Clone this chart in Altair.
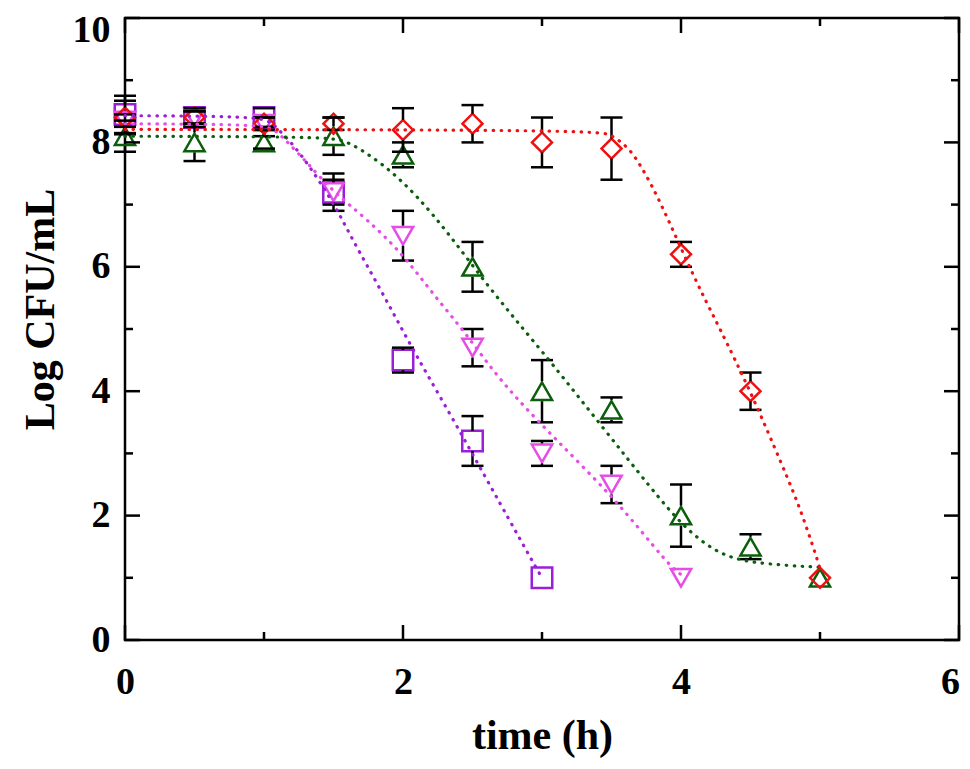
import altair as alt
import pandas as pd

# ---------------- measured data ----------------
series = ["sq", "dn", "up", "di"]
colors = ["#9b1fd6", "#e64ce6", "#0b5e0b", "#ee1111"]
shapes = ["square", "triangle-down", "triangle-up", "diamond"]
sizes = [420, 400, 400, 360]

t_sq = [0, 0.5, 1, 1.5, 2, 2.5, 3]
y_sq = [8.45, 8.4, 8.4, 7.2, 4.5, 3.2, 1.0]
e_sq = [0.3, 0.15, 0.15, 0.3, 0.2, 0.4, 0]

t_dn = [0, 0.5, 1, 1.5, 2, 2.5, 3, 3.5, 4]
y_dn = [8.35, 8.4, 8.3, 7.2, 6.5, 4.7, 3.0, 2.5, 1.0]
e_dn = [0.1, 0.1, 0.1, 0.2, 0.4, 0.3, 0.2, 0.3, 0]

t_up = [0, 0.5, 1, 1.5, 2, 2.5, 3, 3.5, 4, 4.5, 5]
y_up = [8.1, 8.0, 8.0, 8.1, 7.8, 6.0, 4.0, 3.7, 2.0, 1.5, 1.0]
e_up = [0.25, 0.3, 0.1, 0.3, 0.2, 0.4, 0.5, 0.2, 0.5, 0.2, 0]

t_di = [0, 0.5, 1, 1.5, 2, 2.5, 3, 3.5, 4, 4.5, 5]
y_di = [8.4, 8.4, 8.3, 8.3, 8.2, 8.3, 8.0, 7.9, 6.2, 4.0, 1.0]
e_di = [0.27, 0.1, 0.1, 0.1, 0.35, 0.3, 0.4, 0.5, 0.2, 0.3, 0]

# fitted curves
c_sq_t = [0, 0.95, 1.05, 1.13, 1.26, 1.5, 1.62, 1.86, 2.08, 2.34, 2.58, 2.82, 2.94, 3.0]
c_sq_y = [8.43, 8.42, 8.33, 8.15, 7.84, 7.04, 6.5, 5.55, 4.63, 3.63, 2.67, 1.71, 1.23, 1.0]

c_dn_t = [0, 1.0, 1.08, 1.18, 1.3, 1.5, 1.74, 2.0, 2.22, 2.46, 2.7, 3.06, 3.54, 3.9, 4.0]
c_dn_y = [8.3, 8.29, 8.2, 7.98, 7.7, 7.2, 6.77, 6.2, 5.55, 4.91, 4.16, 3.31, 2.24, 1.23, 1.05]

c_up_t = [0, 1.45, 1.6, 1.86, 2.1, 2.34, 2.58, 2.82, 3.06, 3.44, 3.78, 4.02, 4.26, 4.5, 5.0]
c_up_y = [8.1, 8.09, 8.03, 7.65, 7.15, 6.5, 5.78, 5.12, 4.48, 3.41, 2.45, 1.81, 1.39, 1.23, 1.17]

c_di_t = [0, 3.4, 3.5, 3.59, 3.66, 3.78, 3.9, 4.02, 4.14, 4.27, 4.5, 4.74, 4.86, 4.98, 5.0]
c_di_y = [8.21, 8.2, 8.12, 7.97, 7.81, 7.36, 6.8, 6.2, 5.62, 5.05, 4.0, 2.75, 2.1, 1.3, 1.15]

x_major = [0, 2, 4, 6]
x_minor = [1, 3, 5]
y_major = [0, 2, 4, 6, 8, 10]
y_minor = [1, 3, 5, 7, 9]

# ---------------- tables ----------------
pts = pd.concat([
    pd.DataFrame({"t": t, "y": y, "e": e, "s": s})
    for t, y, e, s in [(t_sq, y_sq, e_sq, "sq"), (t_dn, y_dn, e_dn, "dn"),
                       (t_up, y_up, e_up, "up"), (t_di, y_di, e_di, "di")]
], ignore_index=True)
pts["ymin"] = pts["y"] - pts["e"]
pts["ymax"] = pts["y"] + pts["e"]

curves = pd.concat([
    pd.DataFrame({"t": t, "y": y, "s": s})
    for t, y, s in [(c_sq_t, c_sq_y, "sq"), (c_dn_t, c_dn_y, "dn"),
                    (c_up_t, c_up_y, "up"), (c_di_t, c_di_y, "di")]
], ignore_index=True)

W, H = 834, 622
FONT = "Liberation Serif"
xs = alt.Scale(domain=[0, 6], nice=False, zero=False)
ys = alt.Scale(domain=[0, 10], nice=False, zero=False)
cs = alt.Scale(domain=series, range=colors)

xaxis = alt.Axis(values=x_major, ticks=False, domain=False, grid=False,
                 labelFont=FONT, labelFontWeight="bold", labelFontSize=38,
                 labelColor="black", labelPadding=23, labelFlush=False,
                 labelOffset={"condition": {"test": "datum.value == 6", "value": -9}, "value": 0},
                 title="time (h)", titleFont=FONT, titleFontWeight="bold",
                 titleFontSize=42, titleColor="black", titlePadding=14)
yaxis = alt.Axis(values=y_major, ticks=False, domain=False, grid=False,
                 labelFont=FONT, labelFontWeight="bold", labelFontSize=38,
                 labelColor="black", labelPadding=15, labelFlush=False,
                 labelOffset={"condition": {"test": "datum.value == 10", "value": 12}, "value": 0},
                 title="Log CFU/mL", titleFont=FONT, titleFontWeight="bold",
                 titleFontSize=42, titleColor="black", titlePadding=10,
                 titleY=291)


def X(field):
    return alt.X(field, scale=xs, axis=xaxis, title="time (h)")


def Y(field):
    return alt.Y(field, scale=ys, axis=yaxis, title="Log CFU/mL")


base = alt.Chart(pts)

err = base.transform_filter("datum.e > 0")
stem_up = err.transform_filter("datum.e > 0.17").mark_rule(
    color="black", strokeWidth=2.5, y2Offset=-10).encode(
    x=X("t:Q"), y=Y("ymax:Q"), y2="y:Q")
stem_dn = err.transform_filter("datum.e > 0.17").mark_rule(
    color="black", strokeWidth=2.5, y2Offset=10).encode(
    x=X("t:Q"), y=Y("ymin:Q"), y2="y:Q")
cap_up = err.mark_rule(color="black", strokeWidth=2.5, xOffset=-11, x2Offset=11).encode(
    x=X("t:Q"), x2="t:Q", y=Y("ymax:Q"))
cap_dn = err.mark_rule(color="black", strokeWidth=2.5, xOffset=-11, x2Offset=11).encode(
    x=X("t:Q"), x2="t:Q", y=Y("ymin:Q"))

markers = base.mark_point(filled=False, strokeWidth=2.5, opacity=1).encode(
    x=X("t:Q"),
    y=Y("y:Q"),
    color=alt.Color("s:N", scale=cs, legend=None),
    shape=alt.Shape("s:N", scale=alt.Scale(domain=series, range=shapes), legend=None),
    size=alt.Size("s:N", scale=alt.Scale(domain=series, range=sizes), legend=None),
)

lines = alt.Chart(curves).mark_line(
    strokeDash=[0.5, 7.5], strokeCap="round", strokeWidth=3.2, interpolate="basis").encode(
    x=X("t:Q"),
    y=Y("y:Q"),
    color=alt.Color("s:N", scale=cs, legend=None),
    detail="s:N",
)


def xticks(vals, length):
    d = alt.Chart(pd.DataFrame({"v": vals}))
    bot = d.mark_rule(color="black", strokeWidth=2.5).encode(
        x=X("v:Q"), y=alt.value(H), y2=alt.value(H - length))
    top = d.mark_rule(color="black", strokeWidth=2.5).encode(
        x=X("v:Q"), y=alt.value(0), y2=alt.value(length))
    return [bot, top]


def yticks(vals, length):
    d = alt.Chart(pd.DataFrame({"v": vals}))
    left = d.mark_rule(color="black", strokeWidth=2.5).encode(
        y=Y("v:Q"), x=alt.value(0), x2=alt.value(length))
    right = d.mark_rule(color="black", strokeWidth=2.5).encode(
        y=Y("v:Q"), x=alt.value(W), x2=alt.value(W - length))
    return [left, right]


tick_layers = xticks(x_major, 15) + xticks(x_minor, 8) + yticks(y_major, 15) + yticks(y_minor, 8)

chart = alt.layer(
    markers, stem_up, stem_dn, cap_up, cap_dn, lines, *tick_layers
).properties(
    width=W, height=H,
    background="white",
    autosize=alt.AutoSizeParams(type="none"),
    padding={"left": 117, "top": 10, "right": 3, "bottom": 121},
).configure_view(
    stroke="black", strokeWidth=2.5
)

chart.save("out.html", embed_options={"renderer": "svg", "actions": False})
